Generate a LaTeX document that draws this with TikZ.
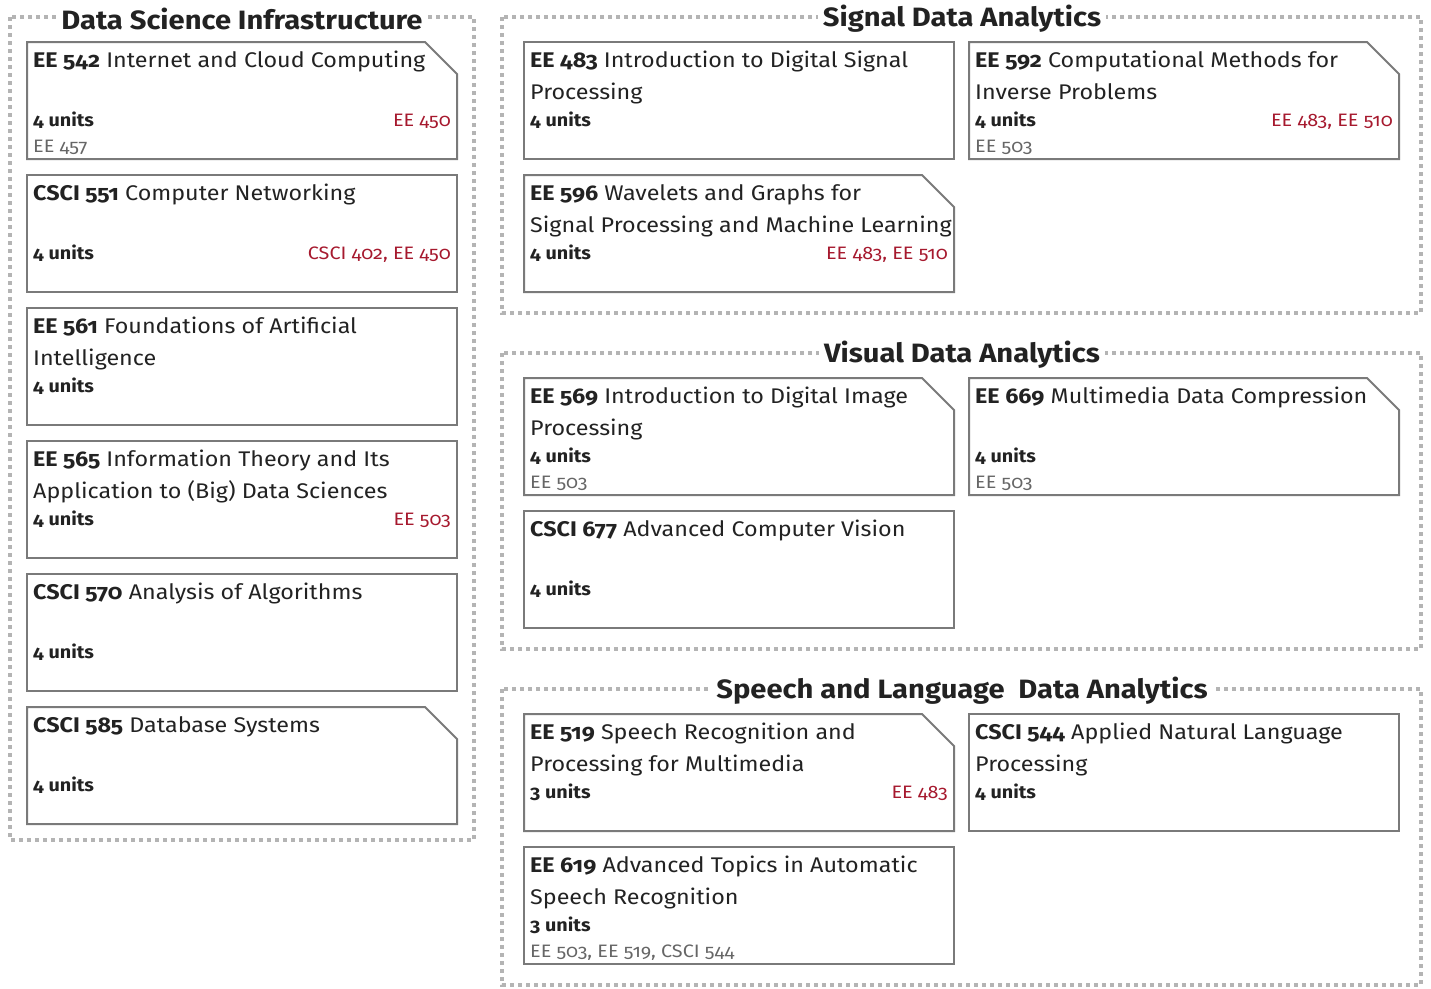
\documentclass[tikz,border=0pt]{standalone}
\usepackage{fontspec}
\setmainfont{Fira Sans}[Numbers=OldStyle, FakeStretch=1.1]
\usetikzlibrary{calc}
\definecolor{cardinal}{HTML}{A6192E}
\definecolor{boxgray}{HTML}{7A7A7A}
\definecolor{dotgray}{HTML}{B4B4B4}
\definecolor{cogray}{HTML}{666666}
\definecolor{ink}{HTML}{222222}
\tikzset{
  boxline/.style={draw=boxgray, line width=2pt},
  grouprect/.style={draw=dotgray, line width=4pt, dash pattern=on 4pt off 4pt},
  grouptitle/.style={fill=white, inner xsep=5pt, inner ysep=2pt, font=\fontsize{26.5}{30}\selectfont\bfseries, text=ink},
  ttl/.style={anchor=base west, inner sep=0pt, font=\fontsize{21.2}{24}\selectfont, text=ink},
  unitstext/.style={anchor=base west, inner sep=0pt, font=\fontsize{18}{20}\selectfont\bfseries, text=ink},
  pretext/.style={anchor=base east, inner sep=0pt, font=\fontsize{18}{20}\selectfont, text=cardinal},
  cotext/.style={anchor=base west, inner sep=0pt, font=\fontsize{18}{20}\selectfont, text=cogray},
}
\newcommand\course[9]{%
  \coordinate (#1) at (#2,#3);
  \ifnum#4=1
    \draw[boxline] (#1) -- ++(398,0) -- ++(32,32) -- ++(0,85) -- ++(-430,0) -- cycle;
  \else
    \draw[boxline] (#1) rectangle ++(430,117);
  \fi
  \node[ttl] (#1-a) at ($(#1)+(6,25)$) {#5};
  \node[ttl] (#1-b) at ($(#1)+(6,57)$) {#6};
  \node[unitstext] (#1-u) at ($(#1)+(6,84)$) {#7};
  \node[pretext] (#1-p) at ($(#1)+(424,84)$) {#8};
  \node[cotext] (#1-c) at ($(#1)+(6,110)$) {#9};
}
\begin{document}
\begin{tikzpicture}[x=1pt,y=-1pt]
\useasboundingbox (0,0) rectangle (1431,988);
% groups
\draw[grouprect] (10,17) rectangle (474,840);
\draw[grouprect] (502,17) rectangle (1421,313);
\draw[grouprect] (502,353) rectangle (1421,649);
\draw[grouprect] (502,689) rectangle (1421,985);
\node[grouptitle] (g1) at (242,18.5) {Data Science Infrastructure};
\node[grouptitle] (g2) at (962,18.5) {Signal Data Analytics};
\node[grouptitle] (g3) at (962,354.5) {Visual Data Analytics};
\node[grouptitle] (g4) at (962,690.5) {Speech and Language\ \ Data Analytics};
% left column
\course{ee542}{27}{42}{1}{{\bfseries EE 542} Internet and Cloud Computing}{}{4 units}{EE 450}{EE 457}
\course{csci551}{27}{175}{0}{{\bfseries CSCI 551} Computer Networking}{}{4 units}{CSCI 402, EE 450}{}
\course{ee561}{27}{308}{0}{{\bfseries EE 561} Foundations of Artificial}{Intelligence}{4 units}{}{}
\course{ee565}{27}{441}{0}{{\bfseries EE 565} Information Theory and Its}{Application to (Big) Data Sciences}{4 units}{EE 503}{}
\course{csci570}{27}{574}{0}{{\bfseries CSCI 570} Analysis of Algorithms}{}{4 units}{}{}
\course{csci585}{27}{707}{1}{{\bfseries CSCI 585} Database Systems}{}{4 units}{}{}
% signal
\course{ee483}{524}{42}{0}{{\bfseries EE 483} Introduction to Digital Signal}{Processing}{4 units}{}{}
\course{ee592}{969}{42}{1}{{\bfseries EE 592} Computational Methods for}{Inverse Problems}{4 units}{EE 483, EE 510}{EE 503}
\course{ee596}{524}{175}{1}{{\bfseries EE 596} Wavelets and Graphs for}{Signal Processing and Machine Learning}{4 units}{EE 483, EE 510}{}
% visual
\course{ee569}{524}{378}{1}{{\bfseries EE 569} Introduction to Digital Image}{Processing}{4 units}{}{EE 503}
\course{ee669}{969}{378}{1}{{\bfseries EE 669} Multimedia Data Compression}{}{4 units}{}{EE 503}
\course{csci677}{524}{511}{0}{{\bfseries CSCI 677} Advanced Computer Vision}{}{4 units}{}{}
% speech
\course{ee519}{524}{714}{1}{{\bfseries EE 519} Speech Recognition and}{Processing for Multimedia}{3 units}{EE 483}{}
\course{csci544}{969}{714}{0}{{\bfseries CSCI 544} Applied Natural Language}{Processing}{4 units}{}{}
\course{ee619}{524}{847}{0}{{\bfseries EE 619} Advanced Topics in Automatic}{Speech Recognition}{3 units}{}{EE 503, EE 519, CSCI 544}
\end{tikzpicture}
\end{document}
